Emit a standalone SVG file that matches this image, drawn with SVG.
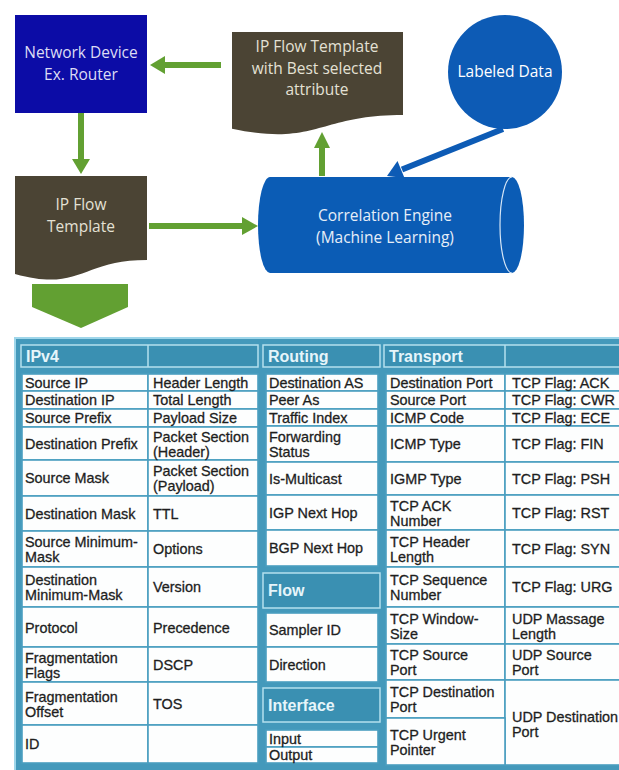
<svg xmlns="http://www.w3.org/2000/svg" width="619" height="770" viewBox="0 0 619 770">
<style>
.d{font-family:"Open Sans","Noto Sans",sans-serif;font-size:15.5px;text-anchor:middle}
.t{font-family:"Liberation Sans",Arial,sans-serif;font-size:14.4px;fill:#1e1e1e;stroke:#1e1e1e;stroke-width:0.3}
.h{font-family:"Liberation Sans",Arial,sans-serif;font-size:16px;font-weight:bold;fill:#e6f5fa}
.hd{fill:#3a90b2;stroke:#b4e0ee;stroke-width:1.5}
.c{fill:#fdfefe;stroke:#4a9ec0;stroke-width:1.6}
.g{fill:#62a032}
.gl{stroke:#62a032;stroke-width:6;fill:none}
</style>
<rect width="619" height="770" fill="#ffffff"/>

<g id="connectors">
  <line class="gl" x1="221" y1="65" x2="163" y2="65"/>
  <polygon class="g" points="150,65 165,56 165,74"/>
  <line class="gl" x1="81" y1="113" x2="81" y2="161"/>
  <polygon class="g" points="81,174 72,159 90,159"/>
  <line class="gl" x1="149" y1="226" x2="243" y2="226"/>
  <polygon class="g" points="258,226 242,217 242,235"/>
  <line class="gl" x1="322" y1="176" x2="322" y2="146" stroke-width="5"/>
  <polygon class="g" points="322,132 314,148 330,148"/>
  <line x1="503" y1="129" x2="402" y2="169.5" stroke="#0d5bb5" stroke-width="6"/>
  <polygon fill="#0d5bb5" points="387,176 404.5,178 397.5,161"/>
  <polygon id="bigArrow" class="g" points="32,284 128,284 128,307 81,328 32,307"/>
</g>

<g id="router">
  <rect x="15" y="15" width="132" height="98" fill="#0c0ca6"/>
  <text class="d" x="81" y="58" fill="#dcdcf4">Network Device</text>
  <text class="d" x="81" y="80" fill="#dcdcf4">Ex. Router</text>
</g>

<g id="bestTemplate">
  <path d="M232,32 H403 V115 C317.5,115 317.5,146.6 232,128.7 Z" fill="#4b4434"/>
  <text class="d" x="317" y="52" fill="#e4e1d4">IP Flow Template</text>
  <text class="d" x="317" y="74" fill="#e4e1d4">with Best selected</text>
  <text class="d" x="317" y="95" fill="#e4e1d4">attribute</text>
</g>

<g id="labeledData">
  <circle cx="505" cy="72" r="57" fill="#0d5bb5"/>
  <text class="d" x="505" y="77" fill="#ffffff">Labeled Data</text>
</g>

<g id="ipFlowTemplate">
  <path d="M15,176 H147 V260 C81,260 81,292.3 15,274 Z" fill="#4b4434"/>
  <text class="d" x="81" y="210" fill="#e4e1d4">IP Flow</text>
  <text class="d" x="81" y="232" fill="#e4e1d4">Template</text>
</g>

<g id="correlationEngine">
  <path d="M270,177 H512 A12,48 0 0 1 512,273 H270 A12,48 0 0 1 270,177 Z" fill="#0b5cb5"/>
  <path d="M512,177 A12,48 0 0 0 512,273" fill="none" stroke="#d6e6f6" stroke-width="1.2"/>
  <text class="d" x="385" y="221" fill="#e6eef8">Correlation Engine</text>
  <text class="d" x="385" y="243" fill="#e6eef8">(Machine Learning)</text>
</g>

<g id="table">
  <rect x="15" y="338" width="620" height="440" fill="#4499bb" stroke="#9fd6ea" stroke-width="2"/>

  <g id="ipv4">
    <rect class="hd" x="21" y="345" width="237" height="22"/>
    <line x1="148" y1="345" x2="148" y2="367" stroke="#b4e0ee" stroke-width="1.5"/>
    <text class="h" x="26" y="362">IPv4</text>
    <rect class="c" x="22" y="374" width="126" height="17"/><rect class="c" x="148" y="374" width="110" height="17"/>
    <rect class="c" x="22" y="391" width="126" height="18"/><rect class="c" x="148" y="391" width="110" height="18"/>
    <rect class="c" x="22" y="409" width="126" height="18"/><rect class="c" x="148" y="409" width="110" height="18"/>
    <rect class="c" x="22" y="427" width="126" height="33"/><rect class="c" x="148" y="427" width="110" height="33"/>
    <rect class="c" x="22" y="460" width="126" height="36"/><rect class="c" x="148" y="460" width="110" height="36"/>
    <rect class="c" x="22" y="496" width="126" height="35"/><rect class="c" x="148" y="496" width="110" height="35"/>
    <rect class="c" x="22" y="531" width="126" height="36"/><rect class="c" x="148" y="531" width="110" height="36"/>
    <rect class="c" x="22" y="567" width="126" height="40"/><rect class="c" x="148" y="567" width="110" height="40"/>
    <rect class="c" x="22" y="607" width="126" height="40"/><rect class="c" x="148" y="607" width="110" height="40"/>
    <rect class="c" x="22" y="647" width="126" height="35"/><rect class="c" x="148" y="647" width="110" height="35"/>
    <rect class="c" x="22" y="682" width="126" height="43"/><rect class="c" x="148" y="682" width="110" height="43"/>
    <rect class="c" x="22" y="725" width="126" height="38"/><rect class="c" x="148" y="725" width="110" height="38"/>

    <text class="t" x="25" y="387.5">Source IP</text><text class="t" x="153" y="387.5">Header Length</text>
    <text class="t" x="25" y="405">Destination IP</text><text class="t" x="153" y="405">Total Length</text>
    <text class="t" x="25" y="423">Source Prefix</text><text class="t" x="153" y="423">Payload Size</text>
    <text class="t" x="25" y="448.5">Destination Prefix</text><text class="t" x="153" y="441.5">Packet Section</text><text class="t" x="153" y="456.5">(Header)</text>
    <text class="t" x="25" y="483">Source Mask</text><text class="t" x="153" y="476">Packet Section</text><text class="t" x="153" y="491">(Payload)</text>
    <text class="t" x="25" y="518.5">Destination Mask</text><text class="t" x="153" y="518.5">TTL</text>
    <text class="t" x="25" y="547">Source Minimum-</text><text class="t" x="25" y="562">Mask</text><text class="t" x="153" y="554">Options</text>
    <text class="t" x="25" y="585">Destination</text><text class="t" x="25" y="600">Minimum-Mask</text><text class="t" x="153" y="592">Version</text>
    <text class="t" x="25" y="633">Protocol</text><text class="t" x="153" y="633">Precedence</text>
    <text class="t" x="25" y="662.5">Fragmentation</text><text class="t" x="25" y="677.5">Flags</text><text class="t" x="153" y="669.5">DSCP</text>
    <text class="t" x="25" y="701.5">Fragmentation</text><text class="t" x="25" y="716.5">Offset</text><text class="t" x="153" y="708.5">TOS</text>
    <text class="t" x="25" y="749">ID</text>
  </g>

  <g id="routing">
    <rect class="hd" x="263" y="345" width="117" height="22"/>
    <text class="h" x="268" y="362">Routing</text>
    <rect class="c" x="266" y="374" width="112" height="17"/>
    <rect class="c" x="266" y="391" width="112" height="18"/>
    <rect class="c" x="266" y="409" width="112" height="17"/>
    <rect class="c" x="266" y="426" width="112" height="36"/>
    <rect class="c" x="266" y="462" width="112" height="33"/>
    <rect class="c" x="266" y="495" width="112" height="35"/>
    <rect class="c" x="266" y="530" width="112" height="36"/>
    <text class="t" x="269" y="387.5">Destination AS</text>
    <text class="t" x="269" y="405">Peer As</text>
    <text class="t" x="269" y="422.5">Traffic Index</text>
    <text class="t" x="269" y="442">Forwarding</text><text class="t" x="269" y="457">Status</text>
    <text class="t" x="269" y="483.5">Is-Multicast</text>
    <text class="t" x="269" y="517.5">IGP Next Hop</text>
    <text class="t" x="269" y="553">BGP Next Hop</text>
  </g>

  <g id="flow">
    <rect class="hd" x="263" y="573" width="117" height="35"/>
    <text class="h" x="268" y="596">Flow</text>
    <rect class="c" x="266" y="613" width="112" height="34"/>
    <rect class="c" x="266" y="647" width="112" height="35"/>
    <text class="t" x="269" y="635">Sampler ID</text>
    <text class="t" x="269" y="669.5">Direction</text>
  </g>

  <g id="interface">
    <rect class="hd" x="263" y="688" width="117" height="34"/>
    <text class="h" x="268" y="711">Interface</text>
    <rect class="c" x="266" y="730" width="112" height="17"/>
    <rect class="c" x="266" y="747" width="112" height="16"/>
    <text class="t" x="269" y="743.5">Input</text>
    <text class="t" x="269" y="760">Output</text>
  </g>

  <g id="transport">
    <rect class="hd" x="384" y="345" width="245" height="22"/>
    <line x1="505" y1="345" x2="505" y2="367" stroke="#b4e0ee" stroke-width="1.5"/>
    <text class="h" x="389" y="362">Transport</text>
    <rect class="c" x="386" y="374" width="119" height="17"/><rect class="c" x="505" y="374" width="124" height="17"/>
    <rect class="c" x="386" y="391" width="119" height="18"/><rect class="c" x="505" y="391" width="124" height="18"/>
    <rect class="c" x="386" y="409" width="119" height="17"/><rect class="c" x="505" y="409" width="124" height="17"/>
    <rect class="c" x="386" y="426" width="119" height="36"/><rect class="c" x="505" y="426" width="124" height="36"/>
    <rect class="c" x="386" y="462" width="119" height="33"/><rect class="c" x="505" y="462" width="124" height="33"/>
    <rect class="c" x="386" y="495" width="119" height="35"/><rect class="c" x="505" y="495" width="124" height="35"/>
    <rect class="c" x="386" y="530" width="119" height="37"/><rect class="c" x="505" y="530" width="124" height="37"/>
    <rect class="c" x="386" y="567" width="119" height="40"/><rect class="c" x="505" y="567" width="124" height="40"/>
    <rect class="c" x="386" y="607" width="119" height="37"/><rect class="c" x="505" y="607" width="124" height="37"/>
    <rect class="c" x="386" y="644" width="119" height="36"/><rect class="c" x="505" y="644" width="124" height="36"/>
    <rect class="c" x="386" y="680" width="119" height="38"/><rect class="c" x="505" y="680" width="124" height="85"/>
    <rect class="c" x="386" y="718" width="119" height="47"/>

    <text class="t" x="390" y="387.5">Destination Port</text><text class="t" x="512" y="387.5">TCP Flag: ACK</text>
    <text class="t" x="390" y="405">Source Port</text><text class="t" x="512" y="405">TCP Flag: CWR</text>
    <text class="t" x="390" y="422.5">ICMP Code</text><text class="t" x="512" y="422.5">TCP Flag: ECE</text>
    <text class="t" x="390" y="449">ICMP Type</text><text class="t" x="512" y="449">TCP Flag: FIN</text>
    <text class="t" x="390" y="483.5">IGMP Type</text><text class="t" x="512" y="483.5">TCP Flag: PSH</text>
    <text class="t" x="390" y="510.5">TCP ACK</text><text class="t" x="390" y="525.5">Number</text><text class="t" x="512" y="517.5">TCP Flag: RST</text>
    <text class="t" x="390" y="546.5">TCP Header</text><text class="t" x="390" y="561.5">Length</text><text class="t" x="512" y="553.5">TCP Flag: SYN</text>
    <text class="t" x="390" y="585">TCP Sequence</text><text class="t" x="390" y="600">Number</text><text class="t" x="512" y="592">TCP Flag: URG</text>
    <text class="t" x="390" y="623.5">TCP Window-</text><text class="t" x="390" y="638.5">Size</text><text class="t" x="512" y="623.5">UDP Massage</text><text class="t" x="512" y="638.5">Length</text>
    <text class="t" x="390" y="660">TCP Source</text><text class="t" x="390" y="675">Port</text><text class="t" x="512" y="660">UDP Source</text><text class="t" x="512" y="675">Port</text>
    <text class="t" x="390" y="697">TCP Destination</text><text class="t" x="390" y="712">Port</text>
    <text class="t" x="390" y="739.5">TCP Urgent</text><text class="t" x="390" y="754.5">Pointer</text>
    <text class="t" x="512" y="722">UDP Destination</text><text class="t" x="512" y="737">Port</text>
  </g>
</g>
</svg>
